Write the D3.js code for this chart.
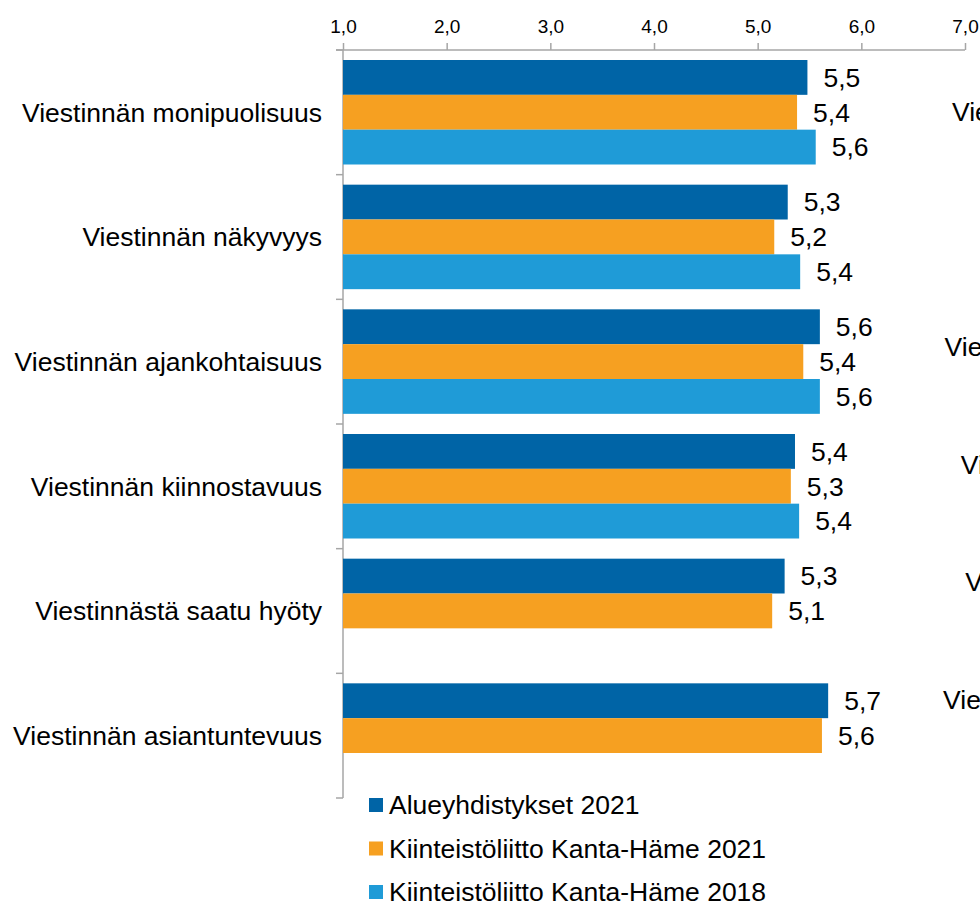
<!DOCTYPE html>
<html>
<head>
<meta charset="utf-8">
<script src="https://cdn.jsdelivr.net/npm/d3@7"></script>
<style>
  body { margin: 0; background: #fff; }
  svg { display: block; overflow: hidden; }
  text { font-family: "Liberation Sans", Arial, sans-serif; fill: #000; }
</style>
</head>
<body>
<div class="chart"></div>
<script>
// data
const categories = [
    "Viestinnän monipuolisuus",
    "Viestinnän näkyvyys",
    "Viestinnän ajankohtaisuus",
    "Viestinnän kiinnostavuus",
    "Viestinnästä saatu hyöty",
    "Viestinnän asiantuntevuus"
];
const seriesNames = ["Alueyhdistykset 2021", "Kiinteistöliitto Kanta-Häme 2021", "Kiinteistöliitto Kanta-Häme 2018"];
const alue2021 = [5.48, 5.29, 5.60, 5.36, 5.26, 5.68];
const kanta2021 = [5.38, 5.16, 5.44, 5.32, 5.14, 5.62];
const kanta2018 = [5.56, 5.41, 5.60, 5.40, null, null];
const tickValues = [1, 2, 3, 4, 5, 6, 7];
const colors = ["#0064a6", "#f6a021", "#1f9bd7"];

const seriesValues = [alue2021, kanta2021, kanta2018];

const width = 980, height = 906;
const svg = d3.select("div.chart")
    .append("svg")
    .attr("width", width)
    .attr("height", height);

const x = d3.scaleLinear().domain([1, 7]).range([343, 965]);
const y0 = d3.scaleBand().domain(categories).range([50, 798]);
const y1 = d3.scaleBand().domain(seriesNames).range([10, 114.5]);

const fmt = v => d3.format(".1f")(v).replace(".", ",");

// top axis
const xAxis = d3.axisTop(x)
    .tickValues(tickValues)
    .tickSize(7)
    .tickPadding(10)
    .tickFormat(fmt);

const gx = svg.append("g")
    .attr("transform", "translate(0,50)")
    .call(xAxis);
gx.select(".domain").attr("stroke", "#a6a6a6").attr("stroke-width", 1.5)
    .attr("d", "M336,0H965");
gx.selectAll(".tick line").attr("stroke", "#a6a6a6").attr("stroke-width", 1.5);
gx.selectAll(".tick text")
    .style("font-family", "Liberation Sans, Arial, sans-serif")
    .style("font-size", "19px")
    .attr("fill", "#000");

// left axis: vertical line plus ticks between groups
svg.append("line")
    .attr("x1", x(1)).attr("x2", x(1))
    .attr("y1", 50).attr("y2", 798)
    .attr("stroke", "#a6a6a6").attr("stroke-width", 1.5);

const bounds = categories.map(c => y0(c)).concat([y0.range()[1]]);
svg.selectAll("line.ytick")
    .data(bounds)
    .enter()
    .append("line")
    .attr("class", "ytick")
    .attr("x1", x(1) - 7).attr("x2", x(1))
    .attr("y1", d => d).attr("y2", d => d)
    .attr("stroke", "#a6a6a6").attr("stroke-width", 1.5);

// category labels
svg.selectAll("text.cat")
    .data(categories)
    .enter()
    .append("text")
    .attr("class", "cat")
    .attr("x", 322)
    .attr("y", d => y0(d) + y0.bandwidth() / 2)
    .attr("dy", "0.35em")
    .attr("text-anchor", "end")
    .style("font-size", "26.5px")
    .text(d => d);

// bars
const barData = [];
categories.forEach((c, i) => {
    seriesNames.forEach((s, j) => {
        const v = seriesValues[j][i];
        if (v != null) barData.push({ cat: c, series: s, idx: j, value: v });
    });
});

svg.selectAll("rect.bar")
    .data(barData)
    .enter()
    .append("rect")
    .attr("class", "bar")
    .attr("x", x(1))
    .attr("y", d => y0(d.cat) + y1(d.series))
    .attr("width", d => x(d.value) - x(1))
    .attr("height", y1.bandwidth())
    .attr("fill", d => colors[d.idx]);

svg.selectAll("text.val")
    .data(barData)
    .enter()
    .append("text")
    .attr("class", "val")
    .attr("x", d => x(d.value) + 16)
    .attr("y", d => y0(d.cat) + y1(d.series) + y1.bandwidth() / 2)
    .attr("dy", "0.35em")
    .style("font-size", "26.5px")
    .text(d => fmt(d.value));

// legend
const legend = svg.selectAll("g.legend")
    .data(seriesNames)
    .enter()
    .append("g")
    .attr("class", "legend")
    .attr("transform", (d, i) => "translate(369," + (805 + i * 43.5) + ")");

legend.append("rect")
    .attr("x", 0).attr("y", -7)
    .attr("width", 14).attr("height", 14)
    .attr("fill", (d, i) => colors[i]);

legend.append("text")
    .attr("x", 20)
    .attr("y", 0)
    .attr("dy", "0.35em")
    .style("font-size", "26.5px")
    .text(d => d);

// labels of the neighbouring chart, cut off at the right edge
const y2 = d3.scaleBand().domain(categories).range([53, 758]);
svg.selectAll("text.cat2")
    .data(categories)
    .enter()
    .append("text")
    .attr("class", "cat2")
    .attr("x", 1252)
    .attr("y", d => y2(d) + y2.bandwidth() / 2)
    .attr("dy", "0.35em")
    .attr("text-anchor", "end")
    .style("font-size", "26.5px")
    .text(d => d);
</script>
</body>
</html>
